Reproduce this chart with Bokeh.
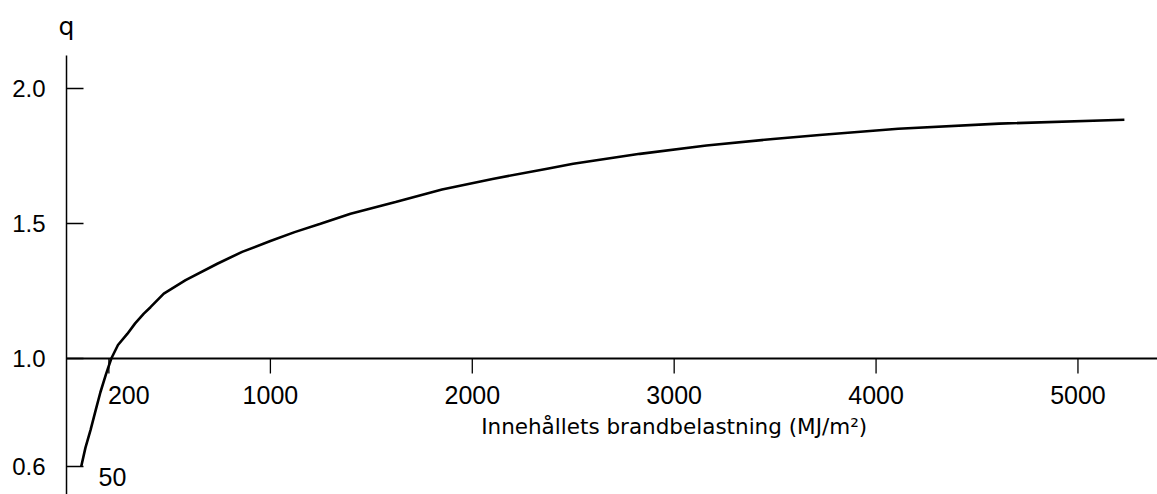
import math
from bokeh.plotting import figure
from bokeh.models import Range1d, FixedTicker
from bokeh.core.properties import value
from bokeh.embed import file_html
from bokeh.resources import INLINE

# ---- data ----
load = [63, 84, 109, 135, 158, 185, 212, 245, 291, 330, 373, 406, 472, 580, 737,
        860, 1000, 1120, 1248, 1397, 1620, 1850, 2100, 2371, 2500, 2830, 3160,
        3490, 3720, 4110, 4610, 5230]
q = [0.60, 0.67, 0.735, 0.81, 0.875, 0.94, 1.0, 1.05, 1.091, 1.13, 1.166, 1.19,
     1.24, 1.29, 1.351, 1.395, 1.435, 1.468, 1.499, 1.536, 1.58, 1.626, 1.665,
     1.703, 1.721, 1.758, 1.789, 1.813, 1.828, 1.851, 1.870, 1.884]
x_ticks = [200, 1000, 2000, 3000, 4000, 5000]
x_tick_labels = ["200", "1000", "2000", "3000", "4000", "5000"]
y_ticks = [0.6, 1.0, 1.5, 2.0]
y_tick_labels = ["0.6", "1.0", "1.5", "2.0"]
start_value = [50]
start_label = ["50"]
baseline_q = 1.0
x_title = "Innehållets brandbelastning (MJ/m²)"
y_title = "q"

# ---- layout / style ----
TICK_FONT = value("Liberation Sans")
LABEL_FONT = value("DejaVu Sans")
X_START, X_END = -89.2, 5394
Y_START, Y_END = 0.4963, 2.3259
AXIS_X = -9.9          # where the vertical axis line sits
AXIS_TOP = 2.1222      # top end of the vertical axis line
TITLE_Y = 2.2296       # baseline of the "q" axis title
label_x = 3000

p = figure(width=1157, height=494, output_backend="svg", toolbar_location=None,
           x_range=Range1d(X_START, X_END), y_range=Range1d(Y_START, Y_END),
           x_axis_location=None, min_border_left=50, min_border_right=0,
           min_border_top=0, min_border_bottom=0)
p.outline_line_color = None
p.grid.visible = False
p.background_fill_color = "white"
p.border_fill_color = "white"

# y axis: Bokeh supplies the tick labels; line and ticks are drawn at AXIS_X
ya = p.yaxis[0]
ya.ticker = FixedTicker(ticks=y_ticks)
ya.major_label_overrides = {t: l for t, l in zip(y_ticks, y_tick_labels)}
ya.major_tick_line_color = None
ya.minor_tick_line_color = None
ya.axis_line_color = None
ya.major_tick_in = 0
ya.major_tick_out = 0
ya.major_label_standoff = 5
ya.major_label_text_font = "Liberation Sans"
ya.major_label_text_font_size = "24px"
ya.major_label_text_color = "black"

p.segment(x0=[AXIS_X], y0=[Y_START], x1=[AXIS_X], y1=[AXIS_TOP],
          line_color="black", line_width=1.5)
p.ray(x=[AXIS_X] * len(y_ticks), y=y_ticks, length=17, length_units="screen",
      angle=0, line_color="black", line_width=1.3)
p.text(x=[AXIS_X], y=[TITLE_Y], text=[y_title], text_align="center",
       text_baseline="alphabetic", text_font=LABEL_FONT, text_font_size="25px",
       text_color="black")

# x axis drawn at q = 1.0, starting at the vertical axis
p.ray(x=[AXIS_X], y=[baseline_q], length=0, angle=0, line_color="black", line_width=2)
p.ray(x=x_ticks, y=[baseline_q] * len(x_ticks), length=15, length_units="screen",
      angle=-math.pi / 2, line_color="black", line_width=1.3)
p.text(x=x_ticks[:1], y=[baseline_q], text=x_tick_labels[:1], text_align="left",
       text_baseline="top", x_offset=-1, y_offset=28, text_font=TICK_FONT,
       text_font_size="25px", text_color="black")
p.text(x=x_ticks[1:], y=[baseline_q] * (len(x_ticks) - 1), text=x_tick_labels[1:],
       text_align="center", text_baseline="top", y_offset=28, text_font=TICK_FONT,
       text_font_size="25px", text_color="black")
p.text(x=start_value, y=[y_ticks[0]], text=start_label, text_align="left",
       text_baseline="top", x_offset=20, y_offset=1, text_font=TICK_FONT,
       text_font_size="25px", text_color="black")
p.text(x=[label_x], y=[baseline_q], text=[x_title], text_align="center",
       text_baseline="middle", y_offset=68, text_font=LABEL_FONT,
       text_font_size="21.5px", text_color="black")

# curve
p.line(load, q, line_color="black", line_width=2.6)

open("out.html", "w").write(file_html(p, INLINE))
